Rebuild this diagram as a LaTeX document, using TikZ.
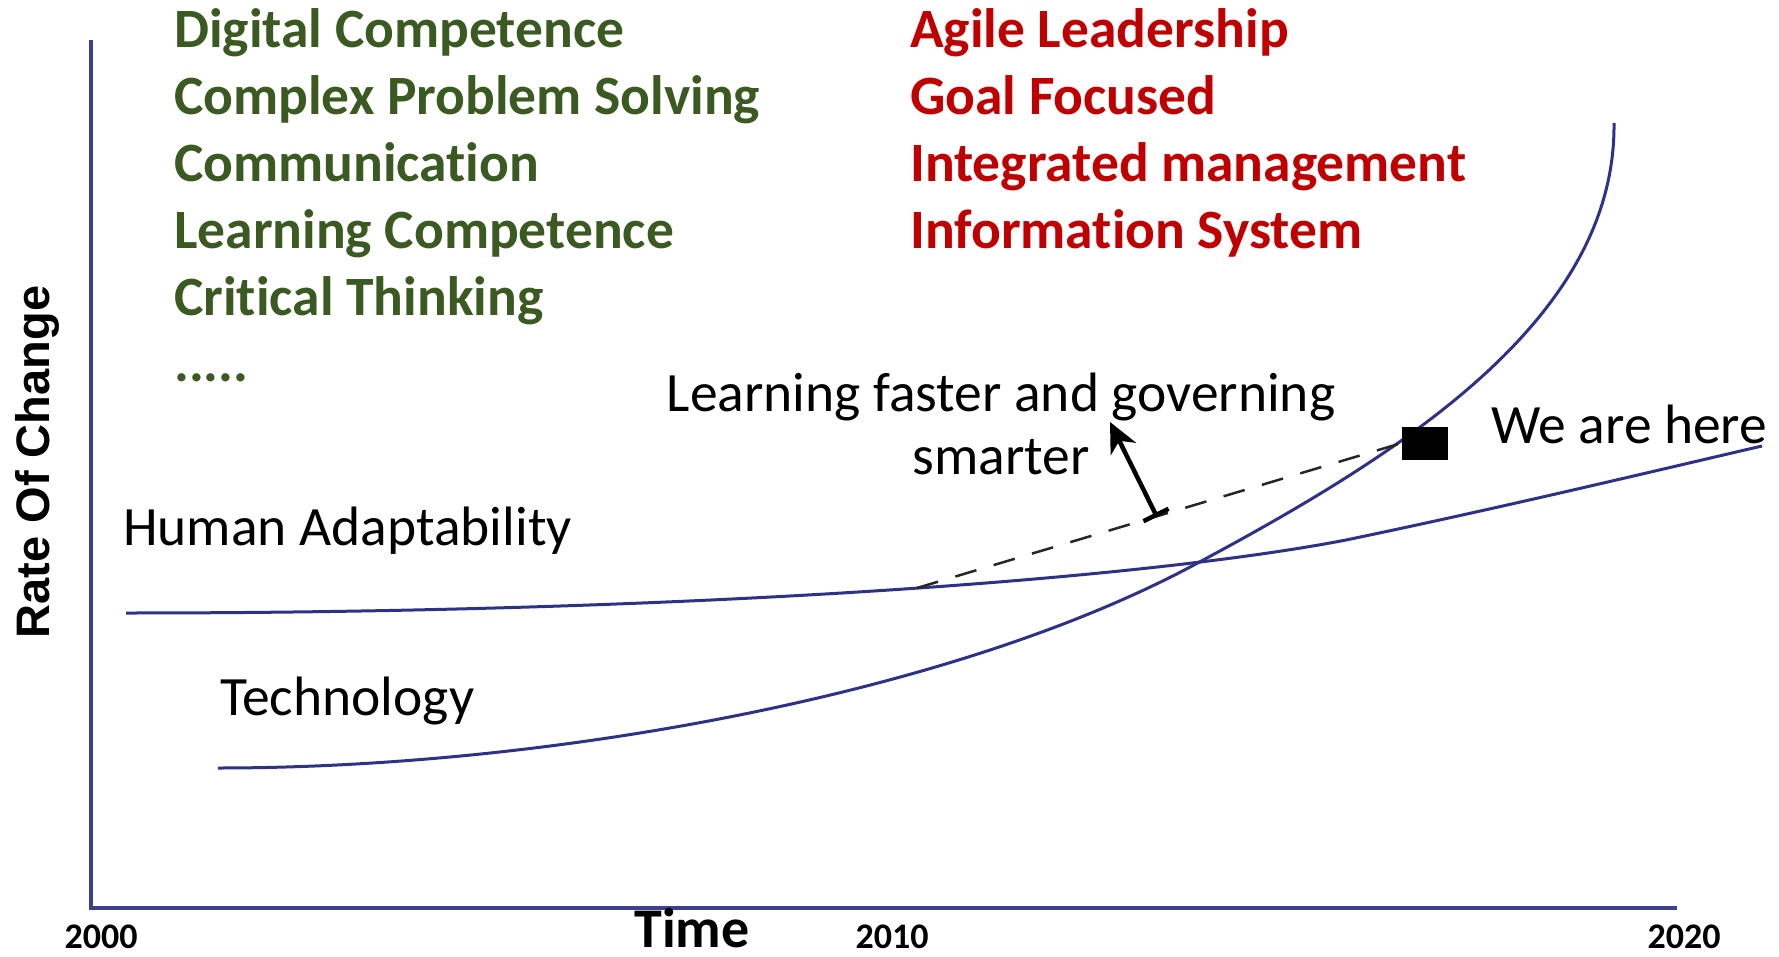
\documentclass[tikz,border=0pt]{standalone}
\usepackage{fontspec}
\setmainfont{Carlito}[Ligatures=NoCommon]
\newfontfamily\axisfont{Liberation Sans}
\usetikzlibrary{arrows.meta}
\definecolor{curveblue}{HTML}{2E3188}
\definecolor{axisblue}{HTML}{3A4290}
\definecolor{skillgreen}{HTML}{3A5A22}
\definecolor{leadred}{HTML}{C00000}
\begin{document}
\begin{tikzpicture}[x=1pt,y=-1pt,
  lbl/.style={inner sep=0pt, anchor=base west, font=\fontsize{55.5}{60}\selectfont},
  skill/.style={lbl, text=skillgreen, font=\fontsize{55.5}{60}\selectfont\bfseries},
  lead/.style={lbl, text=leadred, font=\fontsize{55.5}{60}\selectfont\bfseries},
  year/.style={inner sep=0pt, anchor=base, font=\fontsize{36}{40}\selectfont\bfseries},
  axisline/.style={draw=axisblue, line width=3.5pt},
  curve/.style={draw=curveblue, line width=3pt},
]
\useasboundingbox (0,0) rectangle (1779,957);
% axes
\coordinate (ytop) at (91,40);
\coordinate (orig) at (91,908);
\coordinate (xend) at (1677,908);
\draw[axisline] (ytop) -- (orig) -- (xend);
% axis labels
\node[inner sep=0pt, rotate=90, font=\axisfont\fontsize{47}{50}\selectfont\bfseries] (ylab) at (37,462) {Rate Of Change};
\node[year, font=\fontsize{56}{60}\selectfont\bfseries] (time) at (692,947) {Time};
\node[year] (y2000) at (101,948) {2000};
\node[year] (y2010) at (892,948) {2010};
\node[year] (y2020) at (1684,948) {2020};
% skills list
\node[skill] (s1) at (174,48) {Digital Competence};
\node[skill] (s2) at (174,115) {Complex Problem Solving};
\node[skill] (s3) at (174,182) {Communication};
\node[skill] (s4) at (174,249) {Learning Competence};
\node[skill] (s5) at (174,316) {Critical Thinking};
\node[skill] (s6) at (174,381) {.....};
% leadership list
\node[lead] (l1) at (910,48) {Agile Leadership};
\node[lead] (l2) at (910,115) {Goal Focused};
\node[lead] (l3) at (910,182) {Integrated management};
\node[lead] (l4) at (910,249) {Information System};
% curves
\coordinate (hstart) at (126,613);
\coordinate (hmid) at (1346,540);
\coordinate (hend) at (1762,446);
\draw[curve] (hstart) .. controls (700,613) and (1150,578) .. (hmid)
  .. controls (1500,508) and (1650,472) .. (hend);
\coordinate (tstart) at (218,768);
\coordinate (cross) at (1192,566);
\coordinate (tend) at (1614,123);
\draw[curve] (tstart) .. controls (550,768) and (952,694) .. (cross)
  .. controls (1400,455) and (1616,320) .. (tend);
% labels
\node[lbl] (human) at (123,545) {Human Adaptability};
\node[lbl] (tech) at (220,715) {Technology};
\node[lbl, anchor=base] (learn1) at (1001,411) {Learning faster and governing};
\node[lbl, anchor=base] (learn2) at (1001,474) {smarter};
\node[lbl] (here) at (1491,443) {We are here};
% marker and dashed line
\node[fill=black, inner sep=0pt, minimum width=46pt, minimum height=33pt] (mark) at (1425,443) {};
\coordinate (dstart) at (917,588);
\draw[black!85, line width=2.5pt, dash pattern=on 22pt off 18pt] (dstart) -- (mark.west);
% arrow
\coordinate (atail) at (1157,517);
\coordinate (atip) at (1110,422);
\draw[line width=4.5pt, {Bar[width=28pt]}-{Stealth[length=30pt,width=28pt,inset=9pt]}] (atail) -- (atip);
\end{tikzpicture}
\end{document}
